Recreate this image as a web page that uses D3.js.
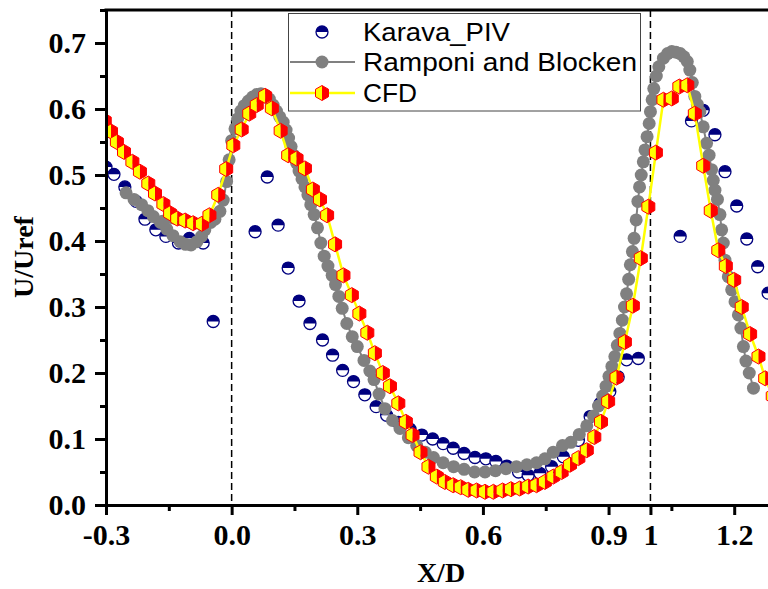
<!DOCTYPE html>
<html><head><meta charset="utf-8">
<script src="https://cdn.jsdelivr.net/npm/d3@7"></script>
<style>body{margin:0;background:#fff}svg{display:block}</style>
</head><body>
<script>
// ---------- DATA ----------
const karavaX = [-0.300,-0.281,-0.255,-0.228,-0.207,-0.181,-0.157,-0.127,-0.101,-0.068,-0.044,
  0.056,0.085,0.111,0.135,0.161,0.187,0.217,0.241,0.265,0.291,0.318,0.345,0.370,0.398,0.426,0.454,0.480,0.505,0.529,0.555,0.581,0.607,0.631,0.657,0.685,0.708,0.736,0.764,0.792,0.828,0.856,0.880,0.903,0.923,0.943,0.971,
  1.071,1.098,1.126,1.154,1.178,1.206,1.230,1.256,1.281];
const karavaY = [0.512,0.501,0.482,0.460,0.433,0.417,0.407,0.397,0.404,0.397,0.278,
  0.414,0.497,0.424,0.359,0.309,0.275,0.250,0.227,0.204,0.187,0.167,0.149,0.136,0.125,0.115,0.106,0.100,0.093,0.086,0.078,0.072,0.070,0.066,0.059,0.050,0.045,0.048,0.058,0.073,0.098,0.134,0.154,0.172,0.194,0.220,0.222,
  0.407,0.582,0.598,0.561,0.505,0.453,0.403,0.361,0.321];

const rampX = [-0.252,-0.233,-0.215,-0.200,-0.187,-0.170,-0.155,-0.140,-0.123,-0.110,-0.097,-0.083,-0.072,-0.064,-0.165,-0.050,-0.040,-0.028,-0.020,-0.012,-0.006,0.000,0.008,0.014,0.022,0.030,0.040,0.050,0.060,0.070,0.080,0.090,0.099,0.107,0.115,0.123,0.130,0.136,0.142,0.148,0.155,0.161,0.168,0.175,0.182,0.189,0.197,0.205,0.213,0.221,0.230,0.240,0.248,0.256,0.264,0.275,0.288,0.300,0.316,0.330,0.340,0.352,0.366,0.384,0.402,0.422,0.442,0.462,0.482,0.505,0.530,0.555,0.580,0.605,0.630,0.655,0.680,0.705,0.728,0.748,0.768,0.790,0.810,0.830,0.848,0.864,0.876,0.886,0.894,0.901,0.908,0.915,0.921,0.927,0.933,0.938,0.943,0.948,0.952,0.957,0.961,0.966,0.970,0.974,0.978,0.983,0.987,0.992,0.997,1.000,1.004,1.008,1.014,1.020,1.031,1.041,1.051,1.061,1.071,1.080,1.088,1.094,1.100,1.106,1.112,1.118,1.126,1.134,1.140,1.146,1.150,1.154,1.160,1.166,1.170,1.174,1.178,1.186,1.194,1.202,1.210,1.216,1.222,1.228,1.236,1.246];
const rampY = [0.473,0.463,0.455,0.446,0.437,0.428,0.418,0.408,0.399,0.395,0.394,0.399,0.407,0.417,0.430,0.428,0.433,0.445,0.462,0.490,0.523,0.552,0.570,0.585,0.597,0.605,0.612,0.618,0.622,0.623,0.621,0.615,0.606,0.597,0.588,0.580,0.568,0.556,0.543,0.530,0.518,0.506,0.494,0.482,0.470,0.455,0.440,0.420,0.397,0.377,0.362,0.348,0.334,0.316,0.298,0.275,0.255,0.240,0.219,0.203,0.190,0.168,0.146,0.128,0.116,0.102,0.090,0.080,0.072,0.064,0.058,0.054,0.050,0.050,0.052,0.055,0.058,0.061,0.064,0.070,0.080,0.090,0.095,0.107,0.120,0.135,0.150,0.165,0.180,0.195,0.210,0.225,0.242,0.260,0.280,0.300,0.320,0.342,0.364,0.384,0.404,0.432,0.460,0.482,0.500,0.520,0.538,0.558,0.578,0.596,0.614,0.631,0.650,0.664,0.677,0.684,0.687,0.686,0.684,0.679,0.672,0.659,0.640,0.619,0.607,0.596,0.573,0.548,0.530,0.508,0.492,0.477,0.463,0.440,0.417,0.397,0.371,0.346,0.326,0.308,0.288,0.268,0.240,0.218,0.200,0.177];

const cfdX = [-0.303,-0.288,-0.274,-0.257,-0.237,-0.219,-0.199,-0.183,-0.163,-0.147,-0.130,-0.111,-0.092,-0.071,-0.053,-0.032,-0.013,0.004,0.024,0.042,0.060,0.080,0.096,0.117,0.135,0.155,0.175,0.194,0.211,0.228,0.247,0.267,0.287,0.305,0.324,0.342,0.361,0.378,0.398,0.416,0.432,0.451,0.470,0.490,0.509,0.529,0.547,0.565,0.585,0.605,0.625,0.647,0.667,0.688,0.708,0.728,0.748,0.768,0.788,0.808,0.828,0.848,0.866,0.882,0.899,0.919,0.939,0.958,0.977,0.995,1.013,1.031,1.051,1.069,1.088,1.106,1.126,1.144,1.162,1.180,1.200,1.218,1.238,1.258,1.274,1.292];
const cfdY = [0.582,0.566,0.550,0.535,0.520,0.505,0.487,0.472,0.456,0.442,0.434,0.431,0.427,0.426,0.439,0.470,0.509,0.545,0.569,0.593,0.606,0.620,0.601,0.567,0.530,0.525,0.510,0.478,0.463,0.439,0.395,0.348,0.318,0.290,0.261,0.230,0.200,0.180,0.154,0.126,0.106,0.080,0.058,0.043,0.035,0.030,0.027,0.023,0.022,0.020,0.020,0.022,0.024,0.025,0.028,0.030,0.035,0.043,0.050,0.061,0.071,0.083,0.103,0.126,0.157,0.193,0.247,0.302,0.374,0.452,0.534,0.614,0.616,0.634,0.636,0.593,0.514,0.446,0.386,0.362,0.341,0.300,0.259,0.225,0.192,0.165];

const xMajorTicks = [-0.3, 0.0, 0.3, 0.6, 0.9, 1.0, 1.2];
const xTickLabels = ["-0.3", "0.0", "0.3", "0.6", "0.9", "1", "1.2"];
const xMinorTicks = [-0.15, 0.15, 0.45, 0.75, 1.05];
const yMajorTicks = [0.0, 0.1, 0.2, 0.3, 0.4, 0.5, 0.6, 0.7];
const yTickLabels = ["0.0", "0.1", "0.2", "0.3", "0.4", "0.5", "0.6", "0.7"];
const yMinorTicks = [0.05, 0.15, 0.25, 0.35, 0.45, 0.55, 0.65, 0.75];
const refLinesX = [0, 1];
const seriesNames = ["Karava_PIV", "Ramponi and Blocken", "CFD"];
const xTitle = "X/D", yTitle = "U/Uref";

// ---------- CHART ----------
const W = 768, H = 589;
const x = d3.scaleLinear().domain([-0.3, 1.35]).range([106, 106 + 1.65 * 418.8]);
const y = d3.scaleLinear().domain([0, 0.75]).range([505, 10]);

const svg = d3.select("body").append("svg").attr("width", W).attr("height", H)
  .style("font-family", "'Liberation Serif','Times New Roman',serif");

svg.append("defs").append("clipPath").attr("id", "plotclip")
  .append("rect").attr("x", x(-0.3)).attr("y", y(0.75)).attr("width", W - x(-0.3)).attr("height", y(0) - y(0.75));

const plot = svg.append("g").attr("clip-path", "url(#plotclip)");

// reference dashed lines
plot.selectAll(".ref").data(refLinesX).join("line")
  .attr("x1", d => x(d)).attr("x2", d => x(d)).attr("y1", y(0.75)).attr("y2", y(0))
  .attr("stroke", "#000").attr("stroke-width", 1.5).attr("stroke-dasharray", "7,4");

const karava = karavaX.map((d, i) => ({x: d, y: karavaY[i]}));
const ramp = rampX.map((d, i) => ({x: d, y: rampY[i]}));
const cfd = cfdX.map((d, i) => ({x: d, y: cfdY[i]}));
const line = d3.line().x(d => x(d.x)).y(d => y(d.y));

// marker painters
const NAVY = "#00007f", GRAY = "#808080";
function halfCircle(g, r) {
  g.append("circle").attr("r", r).attr("fill", "#fff").attr("stroke", NAVY).attr("stroke-width", 1.3);
  g.append("path").attr("d", `M${-r},0A${r},${r} 0 0 1 ${r},0Z`).attr("fill", NAVY);
}
function hexagon(g, r) {
  const c = r * Math.cos(Math.PI / 6), h = r / 2;
  g.append("path").attr("d", `M0,${-r}L${-c},${-h}L${-c},${h}L0,${r}Z`).attr("fill", "#ffff00");
  g.append("path").attr("d", `M0,${-r}L${c},${-h}L${c},${h}L0,${r}Z`).attr("fill", "#ff0000");
  g.append("path").attr("d", `M0,${-r}L${c},${-h}L${c},${h}L0,${r}L${-c},${h}L${-c},${-h}Z`)
    .attr("fill", "none").attr("stroke", "#ff0000").attr("stroke-width", 1);
}
function grayDot(g, r) {
  g.append("circle").attr("r", r).attr("fill", GRAY);
}

// Karava points
plot.append("g").selectAll("g").data(karava).join("g")
  .attr("transform", d => `translate(${x(d.x)},${y(d.y)})`)
  .each(function () { halfCircle(d3.select(this), 6); });

// Ramponi
plot.append("path").datum(ramp).attr("d", line).attr("fill", "none").attr("stroke", GRAY).attr("stroke-width", 2);
plot.append("g").selectAll("g").data(ramp).join("g")
  .attr("transform", d => `translate(${x(d.x)},${y(d.y)})`)
  .each(function () { grayDot(d3.select(this), 6.5); });

// CFD
plot.append("path").datum(cfd).attr("d", line).attr("fill", "none").attr("stroke", "#ffff00").attr("stroke-width", 2.5);
plot.append("g").selectAll("g").data(cfd).join("g")
  .attr("transform", d => `translate(${x(d.x)},${y(d.y)})`)
  .each(function () { hexagon(d3.select(this), 7.5); });

// top border
svg.append("line").attr("x1", x(-0.3) - 1.5).attr("x2", W).attr("y1", y(0.75)).attr("y2", y(0.75))
  .attr("stroke", "#000").attr("stroke-width", 3);

// axes
const tickFont = g => g.selectAll("text").attr("font-size", 30).attr("font-weight", "bold")
  .attr("font-family", "'Liberation Serif','Times New Roman',serif").attr("fill", "#000");
const styleAxis = g => { g.select(".domain").attr("stroke-width", 3); g.selectAll(".tick line").attr("stroke-width", 3); };

const xLab = new Map(xMajorTicks.map((d, i) => [d, xTickLabels[i]]));
const yLab = new Map(yMajorTicks.map((d, i) => [d, yTickLabels[i]]));

svg.append("g").attr("transform", `translate(0,${y(0)})`)
  .call(d3.axisBottom(x).tickValues(xMinorTicks).tickSize(6).tickSizeOuter(0).tickFormat(""))
  .call(styleAxis);
svg.append("g").attr("transform", `translate(0,${y(0)})`)
  .call(d3.axisBottom(x).tickValues(xMajorTicks).tickSize(10).tickSizeOuter(0).tickPadding(9).tickFormat(d => xLab.get(d)))
  .call(styleAxis).call(tickFont);

svg.append("g").attr("transform", `translate(${x(-0.3)},0)`)
  .call(d3.axisLeft(y).tickValues(yMinorTicks).tickSize(6).tickSizeOuter(0).tickFormat(""))
  .call(styleAxis);
svg.append("g").attr("transform", `translate(${x(-0.3)},0)`)
  .call(d3.axisLeft(y).tickValues(yMajorTicks).tickSize(11).tickSizeOuter(0).tickPadding(9).tickFormat(d => yLab.get(d)))
  .call(styleAxis).call(tickFont);

// axis titles
svg.append("text").attr("x", 441).attr("y", 582).attr("text-anchor", "middle")
  .attr("font-size", 28).attr("font-weight", "bold").text(xTitle);
svg.append("text").attr("transform", "translate(33,257) rotate(-90)").attr("text-anchor", "middle")
  .attr("font-size", 28).attr("font-weight", "bold").text(yTitle);

// legend
const lg = svg.append("g").style("font-family", "'Liberation Sans',Arial,sans-serif");
lg.append("rect").attr("x", 288.5).attr("y", 13.5).attr("width", 352).attr("height", 97.5)
  .attr("fill", "#fff").attr("stroke", "#444").attr("stroke-width", 1);
const rowsY = [32, 62, 93];
const textW = [147, 274, 54];
seriesNames.forEach((name, i) => {
  const ry = rowsY[i];
  if (i > 0) lg.append("line").attr("x1", 290).attr("x2", 355).attr("y1", ry).attr("y2", ry)
    .attr("stroke", i === 1 ? GRAY : "#ffff00").attr("stroke-width", i === 1 ? 2 : 2.5);
  const mg = lg.append("g").attr("transform", `translate(322,${ry})`);
  if (i === 0) halfCircle(mg, 6); else if (i === 1) grayDot(mg, 6.5); else hexagon(mg, 7.5);
  lg.append("text").attr("x", 363).attr("y", ry + 8.5).attr("font-size", 25)
    .attr("textLength", textW[i]).attr("lengthAdjust", "spacingAndGlyphs").text(name);
});
</script>
</body></html>
